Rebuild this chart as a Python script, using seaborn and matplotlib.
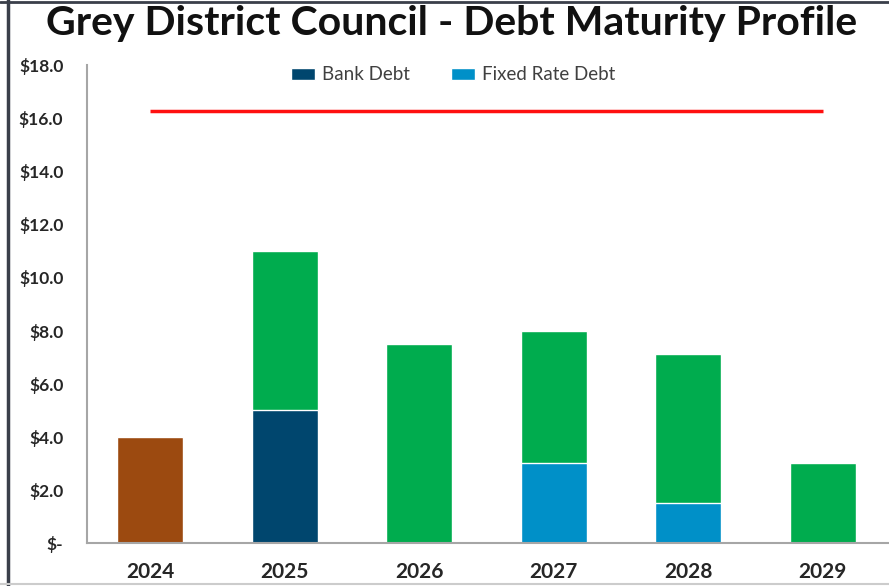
import matplotlib
matplotlib.use("Agg")
import matplotlib.pyplot as plt
import seaborn as sns
import pandas as pd
from matplotlib.patches import Patch
from matplotlib.lines import Line2D
from matplotlib.ticker import FuncFormatter

years = ["2024", "2025", "2026", "2027", "2028", "2029"]
other_debt = [4.0, 0, 0, 0, 0, 0]          # brown
bank_debt = [0, 5.0, 0, 0, 0, 0]           # dark blue
fixed_rate_debt = [0, 0, 0, 3.0, 1.5, 0]   # light blue
green_debt = [0, 6.0, 7.5, 5.0, 5.6, 3.0]  # green
debt_limit = 16.25
y_ticks = [0, 2, 4, 6, 8, 10, 12, 14, 16, 18]

c_other = "#9C4A10"
c_bank = "#00466E"
c_fixed = "#0090C8"
c_green = "#00AC4E"

sns.set_theme(style="white")
plt.rcParams["font.family"] = ["Lato", "DejaVu Sans"]

totals = [a + b + c + d for a, b, c, d in zip(other_debt, bank_debt, fixed_rate_debt, green_debt)]
df_tot = pd.DataFrame({"year": years, "value": totals})

rows = []
for y, o, b, f in zip(years, other_debt, bank_debt, fixed_rate_debt):
    if o > 0:
        rows.append({"year": y, "value": o, "type": "Other"})
    if b > 0:
        rows.append({"year": y, "value": b, "type": "Bank Debt"})
    if f > 0:
        rows.append({"year": y, "value": f, "type": "Fixed Rate Debt"})
df_bottom = pd.DataFrame(rows)

fig = plt.figure(figsize=(8.89, 5.86), dpi=100)
ax = fig.add_axes([87 / 889, 1 - 543 / 586, 1 - 87 / 889, (543 - 65) / 586])

sns.barplot(data=df_tot, x="year", y="value", order=years, color=c_green,
            width=0.49, edgecolor="white", linewidth=1, ax=ax, errorbar=None,
            saturation=1)
sns.barplot(data=df_bottom, x="year", y="value", order=years, hue="type",
            hue_order=["Other", "Bank Debt", "Fixed Rate Debt"],
            palette=[c_other, c_bank, c_fixed], dodge=False, width=0.49,
            edgecolor="white", linewidth=1, ax=ax, errorbar=None, saturation=1,
            legend=False)

ax.hlines(debt_limit, 0, len(years) - 1, color="#FF1010", linewidth=2.5)

ax.set_ylim(0, 18)
ax.set_xlim(-0.47, 5.494)
ax.set_yticks(y_ticks)
ax.yaxis.set_major_formatter(FuncFormatter(lambda v, p: "$-" if v == 0 else f"${v:.1f}"))
ax.set_xlabel("")
ax.set_ylabel("")
ax.tick_params(axis="y", length=0, pad=17, labelsize=12.5, labelcolor="#262626")
ax.tick_params(axis="x", length=0, pad=14, labelsize=15, labelcolor="#262626")
for lab in ax.get_yticklabels() + ax.get_xticklabels():
    lab.set_fontweight("bold")

for s in ["top", "right"]:
    ax.spines[s].set_visible(False)
for s in ["left", "bottom"]:
    ax.spines[s].set_color("#A6A6A6")
    ax.spines[s].set_linewidth(1.5)

handles = [Patch(facecolor=c_bank, label="Bank Debt"),
           Patch(facecolor=c_fixed, label="Fixed Rate Debt")]
ax.legend(handles=handles, ncol=2, loc="center", bbox_to_anchor=(453 / 889, 1 - 75 / 586),
          bbox_transform=fig.transFigure, frameon=False, fontsize=13.5,
          handlelength=1.3, handleheight=0.55, columnspacing=2.2, handletextpad=0.35,
          labelcolor="#404040")

fig.text(452 / 889, 1 - 23 / 586, "Grey District Council - Debt Maturity Profile",
         ha="center", va="center", fontsize=29.5, fontweight="bold", color="#111111")

fig.add_artist(Line2D([8 / 889, 8 / 889], [0, 1], transform=fig.transFigure,
                      color="#3A3F4A", linewidth=2.5))
fig.add_artist(Line2D([0, 1], [1 - 2 / 586, 1 - 2 / 586], transform=fig.transFigure,
                      color="#3A3F4A", linewidth=2))
fig.add_artist(Line2D([0, 1], [1 - 584 / 586, 1 - 584 / 586], transform=fig.transFigure,
                      color="#CCCCCC", linewidth=1.5))

fig.savefig("out.png", dpi=100)
